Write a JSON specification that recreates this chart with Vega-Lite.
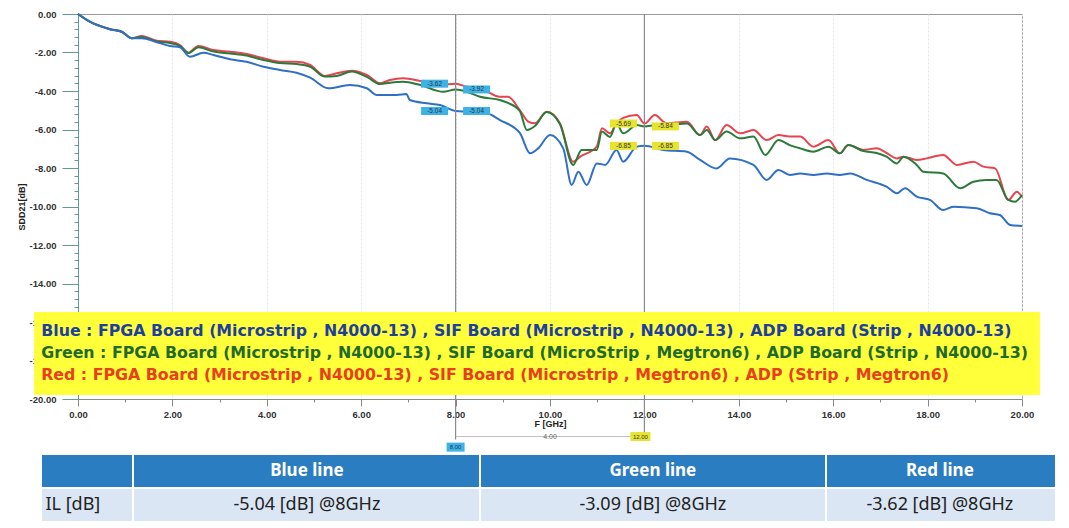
{
  "$schema": "https://vega.github.io/schema/vega-lite/v6.json",
  "width": 944,
  "height": 385,
  "autosize": {"type": "none"},
  "padding": {"left": 78, "top": 14, "right": 47, "bottom": 129},
  "background": "white",
  "config": {
    "view": {"stroke": "#9a9a9a", "strokeWidth": 1},
    "text": {"font": "Noto Sans"}
  },
  "datasets": {
    "curves": [
      {"f":0,"db":0,"s":"Red"},{"f":0.25,"db":-0.40,"s":"Red"},{"f":0.68,"db":-0.79,"s":"Red"},{"f":0.93,"db":-0.92,"s":"Red"},{"f":1.14,"db":-1.26,"s":"Red"},{"f":1.35,"db":-1.14,"s":"Red"},{"f":1.67,"db":-1.39,"s":"Red"},{"f":1.95,"db":-1.44,"s":"Red"},{"f":2.16,"db":-1.61,"s":"Red"},{"f":2.34,"db":-2.01,"s":"Red"},{"f":2.55,"db":-1.66,"s":"Red"},{"f":2.87,"db":-1.87,"s":"Red"},{"f":3.22,"db":-1.96,"s":"Red"},{"f":3.57,"db":-2.08,"s":"Red"},{"f":3.93,"db":-2.30,"s":"Red"},{"f":4.28,"db":-2.48,"s":"Red"},{"f":4.63,"db":-2.48,"s":"Red"},{"f":4.92,"db":-2.65,"s":"Red"},{"f":5.23,"db":-3.22,"s":"Red"},{"f":5.48,"db":-3.08,"s":"Red"},{"f":5.80,"db":-2.95,"s":"Red"},{"f":6.12,"db":-3.17,"s":"Red"},{"f":6.40,"db":-3.60,"s":"Red"},{"f":6.61,"db":-3.43,"s":"Red"},{"f":6.89,"db":-3.34,"s":"Red"},{"f":7.25,"db":-3.48,"s":"Red"},{"f":7.67,"db":-3.69,"s":"Red"},{"f":8.0,"db":-3.62,"s":"Red"},{"f":8.24,"db":-3.78,"s":"Red"},{"f":8.52,"db":-3.86,"s":"Red"},{"f":8.94,"db":-4.30,"s":"Red"},{"f":9.11,"db":-4.30,"s":"Red"},{"f":9.36,"db":-4.99,"s":"Red"},{"f":9.54,"db":-5.59,"s":"Red"},{"f":9.68,"db":-5.68,"s":"Red"},{"f":9.93,"db":-5.08,"s":"Red"},{"f":10.21,"db":-5.68,"s":"Red"},{"f":10.49,"db":-7.67,"s":"Red"},{"f":10.64,"db":-7.41,"s":"Red"},{"f":10.99,"db":-6.89,"s":"Red"},{"f":11.10,"db":-5.94,"s":"Red"},{"f":11.27,"db":-6.20,"s":"Red"},{"f":11.41,"db":-5.68,"s":"Red"},{"f":11.55,"db":-5.40,"s":"Red"},{"f":11.84,"db":-5.25,"s":"Red"},{"f":12.0,"db":-5.69,"s":"Red"},{"f":12.22,"db":-5.25,"s":"Red"},{"f":12.47,"db":-5.68,"s":"Red"},{"f":12.90,"db":-5.60,"s":"Red"},{"f":13.18,"db":-6.29,"s":"Red"},{"f":13.32,"db":-5.85,"s":"Red"},{"f":13.50,"db":-6.55,"s":"Red"},{"f":13.74,"db":-5.77,"s":"Red"},{"f":14.03,"db":-6.20,"s":"Red"},{"f":14.31,"db":-6.03,"s":"Red"},{"f":14.59,"db":-6.55,"s":"Red"},{"f":14.84,"db":-6.29,"s":"Red"},{"f":15.08,"db":-6.37,"s":"Red"},{"f":15.30,"db":-6.37,"s":"Red"},{"f":15.58,"db":-6.89,"s":"Red"},{"f":15.90,"db":-6.55,"s":"Red"},{"f":16.14,"db":-7.24,"s":"Red"},{"f":16.32,"db":-6.81,"s":"Red"},{"f":16.64,"db":-7.06,"s":"Red"},{"f":16.92,"db":-6.98,"s":"Red"},{"f":17.13,"db":-7.22,"s":"Red"},{"f":17.35,"db":-7.50,"s":"Red"},{"f":17.49,"db":-7.41,"s":"Red"},{"f":17.77,"db":-7.58,"s":"Red"},{"f":17.98,"db":-7.50,"s":"Red"},{"f":18.33,"db":-7.32,"s":"Red"},{"f":18.62,"db":-7.84,"s":"Red"},{"f":18.97,"db":-7.67,"s":"Red"},{"f":19.18,"db":-7.93,"s":"Red"},{"f":19.43,"db":-8.02,"s":"Red"},{"f":19.71,"db":-9.66,"s":"Red"},{"f":19.89,"db":-9.23,"s":"Red"},{"f":20.0,"db":-9.50,"s":"Red"},

      {"f":0,"db":0,"s":"Green"},{"f":0.25,"db":-0.40,"s":"Green"},{"f":0.68,"db":-0.79,"s":"Green"},{"f":0.93,"db":-0.92,"s":"Green"},{"f":1.14,"db":-1.26,"s":"Green"},{"f":1.35,"db":-1.19,"s":"Green"},{"f":1.67,"db":-1.43,"s":"Green"},{"f":1.95,"db":-1.51,"s":"Green"},{"f":2.16,"db":-1.66,"s":"Green"},{"f":2.34,"db":-2.03,"s":"Green"},{"f":2.55,"db":-1.73,"s":"Green"},{"f":2.87,"db":-1.95,"s":"Green"},{"f":3.22,"db":-2.05,"s":"Green"},{"f":3.57,"db":-2.16,"s":"Green"},{"f":3.93,"db":-2.39,"s":"Green"},{"f":4.28,"db":-2.55,"s":"Green"},{"f":4.63,"db":-2.60,"s":"Green"},{"f":4.92,"db":-2.74,"s":"Green"},{"f":5.23,"db":-3.25,"s":"Green"},{"f":5.48,"db":-3.22,"s":"Green"},{"f":5.80,"db":-2.99,"s":"Green"},{"f":6.12,"db":-3.27,"s":"Green"},{"f":6.40,"db":-3.64,"s":"Green"},{"f":6.61,"db":-3.57,"s":"Green"},{"f":6.89,"db":-3.52,"s":"Green"},{"f":7.25,"db":-3.69,"s":"Green"},{"f":7.74,"db":-4.04,"s":"Green"},{"f":8.0,"db":-3.92,"s":"Green"},{"f":8.24,"db":-4.04,"s":"Green"},{"f":8.52,"db":-4.30,"s":"Green"},{"f":8.94,"db":-4.47,"s":"Green"},{"f":9.11,"db":-4.62,"s":"Green"},{"f":9.36,"db":-5.04,"s":"Green"},{"f":9.51,"db":-6.03,"s":"Green"},{"f":9.68,"db":-5.82,"s":"Green"},{"f":9.93,"db":-5.09,"s":"Green"},{"f":10.21,"db":-5.71,"s":"Green"},{"f":10.49,"db":-7.84,"s":"Green"},{"f":10.67,"db":-7.06,"s":"Green"},{"f":10.99,"db":-7.06,"s":"Green"},{"f":11.10,"db":-6.11,"s":"Green"},{"f":11.27,"db":-6.39,"s":"Green"},{"f":11.41,"db":-5.68,"s":"Green"},{"f":11.55,"db":-6.20,"s":"Green"},{"f":11.84,"db":-5.77,"s":"Green"},{"f":12.0,"db":-5.84,"s":"Green"},{"f":12.26,"db":-5.77,"s":"Green"},{"f":12.47,"db":-5.77,"s":"Green"},{"f":12.90,"db":-5.69,"s":"Green"},{"f":13.18,"db":-6.29,"s":"Green"},{"f":13.32,"db":-6.03,"s":"Green"},{"f":13.50,"db":-6.55,"s":"Green"},{"f":13.74,"db":-6.11,"s":"Green"},{"f":14.03,"db":-6.46,"s":"Green"},{"f":14.31,"db":-6.37,"s":"Green"},{"f":14.56,"db":-7.32,"s":"Green"},{"f":14.84,"db":-6.55,"s":"Green"},{"f":15.08,"db":-6.81,"s":"Green"},{"f":15.30,"db":-6.98,"s":"Green"},{"f":15.58,"db":-7.15,"s":"Green"},{"f":15.90,"db":-6.89,"s":"Green"},{"f":16.14,"db":-7.24,"s":"Green"},{"f":16.32,"db":-6.81,"s":"Green"},{"f":16.64,"db":-7.12,"s":"Green"},{"f":16.92,"db":-7.22,"s":"Green"},{"f":17.13,"db":-7.41,"s":"Green"},{"f":17.35,"db":-7.76,"s":"Green"},{"f":17.49,"db":-7.41,"s":"Green"},{"f":17.77,"db":-7.84,"s":"Green"},{"f":17.91,"db":-8.19,"s":"Green"},{"f":18.33,"db":-8.28,"s":"Green"},{"f":18.69,"db":-9.05,"s":"Green"},{"f":18.97,"db":-8.71,"s":"Green"},{"f":19.25,"db":-8.62,"s":"Green"},{"f":19.46,"db":-8.62,"s":"Green"},{"f":19.71,"db":-9.66,"s":"Green"},{"f":19.85,"db":-9.75,"s":"Green"},{"f":20.0,"db":-9.40,"s":"Green"},

      {"f":0,"db":0,"s":"Blue"},{"f":0.25,"db":-0.40,"s":"Blue"},{"f":0.68,"db":-0.79,"s":"Blue"},{"f":0.93,"db":-0.94,"s":"Blue"},{"f":1.14,"db":-1.26,"s":"Blue"},{"f":1.35,"db":-1.26,"s":"Blue"},{"f":1.67,"db":-1.47,"s":"Blue"},{"f":1.95,"db":-1.66,"s":"Blue"},{"f":2.16,"db":-1.73,"s":"Blue"},{"f":2.37,"db":-2.22,"s":"Blue"},{"f":2.66,"db":-2.01,"s":"Blue"},{"f":2.87,"db":-2.13,"s":"Blue"},{"f":3.22,"db":-2.35,"s":"Blue"},{"f":3.57,"db":-2.48,"s":"Blue"},{"f":3.93,"db":-2.74,"s":"Blue"},{"f":4.28,"db":-2.91,"s":"Blue"},{"f":4.63,"db":-3.05,"s":"Blue"},{"f":4.92,"db":-3.31,"s":"Blue"},{"f":5.30,"db":-3.86,"s":"Blue"},{"f":5.76,"db":-3.69,"s":"Blue"},{"f":6.12,"db":-3.86,"s":"Blue"},{"f":6.33,"db":-4.21,"s":"Blue"},{"f":6.75,"db":-4.21,"s":"Blue"},{"f":6.96,"db":-4.16,"s":"Blue"},{"f":7.03,"db":-4.47,"s":"Blue"},{"f":7.39,"db":-4.64,"s":"Blue"},{"f":7.67,"db":-4.73,"s":"Blue"},{"f":8.0,"db":-5.04,"s":"Blue"},{"f":8.24,"db":-5.08,"s":"Blue"},{"f":8.66,"db":-5.16,"s":"Blue"},{"f":8.94,"db":-5.51,"s":"Blue"},{"f":9.36,"db":-6.18,"s":"Blue"},{"f":9.58,"db":-7.24,"s":"Blue"},{"f":9.75,"db":-6.98,"s":"Blue"},{"f":10.0,"db":-6.29,"s":"Blue"},{"f":10.28,"db":-6.98,"s":"Blue"},{"f":10.46,"db":-8.88,"s":"Blue"},{"f":10.60,"db":-8.19,"s":"Blue"},{"f":10.78,"db":-8.88,"s":"Blue"},{"f":10.99,"db":-7.76,"s":"Blue"},{"f":11.17,"db":-7.84,"s":"Blue"},{"f":11.41,"db":-7.06,"s":"Blue"},{"f":11.55,"db":-7.67,"s":"Blue"},{"f":11.84,"db":-6.89,"s":"Blue"},{"f":12.0,"db":-6.85,"s":"Blue"},{"f":12.40,"db":-7.06,"s":"Blue"},{"f":12.90,"db":-7.15,"s":"Blue"},{"f":13.18,"db":-7.58,"s":"Blue"},{"f":13.53,"db":-8.02,"s":"Blue"},{"f":13.81,"db":-7.50,"s":"Blue"},{"f":14.31,"db":-7.84,"s":"Blue"},{"f":14.59,"db":-8.62,"s":"Blue"},{"f":14.84,"db":-8.10,"s":"Blue"},{"f":15.08,"db":-8.36,"s":"Blue"},{"f":15.30,"db":-8.28,"s":"Blue"},{"f":15.58,"db":-8.36,"s":"Blue"},{"f":15.86,"db":-8.28,"s":"Blue"},{"f":16.14,"db":-8.36,"s":"Blue"},{"f":16.36,"db":-8.28,"s":"Blue"},{"f":16.71,"db":-8.62,"s":"Blue"},{"f":17.13,"db":-8.97,"s":"Blue"},{"f":17.35,"db":-9.31,"s":"Blue"},{"f":17.52,"db":-9.05,"s":"Blue"},{"f":17.77,"db":-9.49,"s":"Blue"},{"f":18.05,"db":-9.66,"s":"Blue"},{"f":18.33,"db":-10.18,"s":"Blue"},{"f":18.54,"db":-10.01,"s":"Blue"},{"f":19.04,"db":-10.09,"s":"Blue"},{"f":19.32,"db":-10.35,"s":"Blue"},{"f":19.53,"db":-10.44,"s":"Blue"},{"f":19.75,"db":-10.96,"s":"Blue"},{"f":20.0,"db":-11.01,"s":"Blue"}
    ],
    "markers": [
      {"f":8,"v":-3.62,"side":"L","m":"M1"},{"f":8,"v":-3.92,"side":"R","m":"M1"},
      {"f":8,"v":-5.04,"side":"L","m":"M1"},{"f":8,"v":-5.04,"side":"R","m":"M1"},
      {"f":12,"v":-5.69,"side":"L","m":"M2"},{"f":12,"v":-5.84,"side":"R","m":"M2"},
      {"f":12,"v":-6.85,"side":"L","m":"M2"},{"f":12,"v":-6.85,"side":"R","m":"M2"}
    ],
    "markerPos": [{"f":8,"m":"M1","t":"8.00"},{"f":12,"m":"M2","t":"12.00"}],
    "legendText": [
      {"s":"Blue","t":"Blue : FPGA Board (Microstrip , N4000-13) , SIF Board (Microstrip , N4000-13) , ADP Board (Strip , N4000-13)"},
      {"s":"Green","t":"Green : FPGA Board (Microstrip , N4000-13) , SIF Board (MicroStrip , Megtron6) , ADP Board (Strip , N4000-13)"},
      {"s":"Red","t":"Red : FPGA Board (Microstrip , N4000-13) , SIF Board (Microstrip , Megtron6) , ADP (Strip , Megtron6)"}
    ],
    "table": [
      {"col":"Blue line","il":"-5.04 [dB] @8GHz"},
      {"col":"Green line","il":"-3.09 [dB] @8GHz"},
      {"col":"Red line","il":"-3.62 [dB] @8GHz"}
    ],
    "one": [{}]
  },
  "layer": [
    {
      "data": {"name": "curves"},
      "mark": {"type": "line", "strokeWidth": 2, "interpolate": "monotone"},
      "encoding": {
        "x": {"field": "f", "type": "quantitative", "scale": {"domain": [0, 20], "nice": false, "zero": false},
          "axis": {
            "values": [0,1,2,3,4,5,6,7,8,9,10,11,12,13,14,15,16,17,18,19,20],
            "tickCount": 200,
            "labelExpr": "datum.value % 2 == 0 ? replace(format(datum.value, '.2f'), '\u2212', '-') : ''",
            "labelOverlap": false,
            "labelFlush": false,
            "labelFont": "Liberation Sans", "labelFontWeight": "bold", "labelFontSize": 9.5, "labelColor": "#333",
            "labelPadding": 3,
            "tickSize": {"condition": {"test": "datum.value % 2 == 0", "value": 7}, "value": 3},
            "tickColor": "#888", "domainColor": "#888",
            "grid": true, "gridColor": "#e4e4e4", "gridDash": [2, 2],
            "gridOpacity": {"condition": {"test": "datum.value % 2 == 0", "value": 1}, "value": 0},
            "title": "F [GHz]", "titleFont": "Liberation Sans", "titleFontSize": 9, "titleFontWeight": "bold", "titleColor": "#222", "titlePadding": 1
          }
        },
        "y": {"field": "db", "type": "quantitative", "scale": {"domain": [-20, 0], "nice": false, "zero": false},
          "axis": {
            "values": [0,-0.4,-0.8,-1.2,-1.6,-2,-2.4,-2.8,-3.2,-3.6,-4,-4.4,-4.8,-5.2,-5.6,-6,-6.4,-6.8,-7.2,-7.6,-8,-8.4,-8.8,-9.2,-9.6,-10,-10.4,-10.8,-11.2,-11.6,-12,-12.4,-12.8,-13.2,-13.6,-14,-14.4,-14.8,-15.2,-15.6,-16,-16.4,-16.8,-17.2,-17.6,-18,-18.4,-18.8,-19.2,-19.6,-20],
            "tickCount": 200,
            "labelExpr": "datum.value % 2 == 0 ? replace(format(datum.value, '.2f'), '\u2212', '-') : ''",
            "labelOverlap": false,
            "labelFont": "Liberation Sans", "labelFontWeight": "bold", "labelFontSize": 9.5, "labelColor": "#333",
            "labelPadding": 6,
            "tickSize": {"condition": {"test": "datum.value % 2 == 0", "value": 16}, "value": 4},
            "tickColor": "#5f9a9a", "domainColor": "#5f9a9a",
            "grid": false,
            "title": "SDD21[dB]", "titleFont": "Liberation Sans", "titleFontSize": 9, "titleFontWeight": "bold", "titleColor": "#222", "titlePadding": 3
          }
        },
        "color": {"field": "s", "type": "nominal", "legend": null,
          "scale": {"domain": ["Red", "Green", "Blue"], "range": ["#e8434f", "#2b7a3a", "#2f6fc6"]}},
        "order": {"field": "f", "type": "quantitative"}
      }
    },
    {
      "data": {"name": "markerPos"},
      "mark": {"type": "rule", "color": "#8a8a8a", "strokeWidth": 1.2},
      "encoding": {
        "x": {"field": "f", "type": "quantitative"},
        "y": {"datum": 0, "type": "quantitative"},
        "y2": {"datum": -22.1}
      }
    },
    {
      "data": {"name": "one"},
      "mark": {"type": "rule", "color": "#b0b0b0", "strokeWidth": 0.8},
      "encoding": {"x": {"datum": 8}, "x2": {"datum": 12}, "y": {"datum": -21.95}}
    },
    {
      "data": {"name": "one"},
      "mark": {"type": "text", "fontSize": 7, "color": "#666", "font": "Liberation Sans"},
      "encoding": {"x": {"datum": 10}, "y": {"datum": -21.95}, "text": {"value": "4.00"}}
    },
    {
      "data": {"name": "markers"},
      "transform": [{"filter": "datum.side == 'L'"}],
      "mark": {"type": "rect", "width": 27, "height": 8, "xOffset": -21},
      "encoding": {
        "x": {"field": "f", "type": "quantitative"},
        "y": {"field": "v", "type": "quantitative"},
        "fill": {"field": "m", "type": "nominal", "legend": null, "scale": {"domain": ["M1", "M2"], "range": ["#3bb3e6", "#e6e42c"]}}
      }
    },
    {
      "data": {"name": "markers"},
      "transform": [{"filter": "datum.side == 'R'"}],
      "mark": {"type": "rect", "width": 27, "height": 8, "xOffset": 21},
      "encoding": {
        "x": {"field": "f", "type": "quantitative"},
        "y": {"field": "v", "type": "quantitative"},
        "fill": {"field": "m", "type": "nominal", "legend": null}
      }
    },
    {
      "data": {"name": "markers"},
      "transform": [{"filter": "datum.side == 'L'"}, {"calculate": "replace(format(datum.v, '.2f'), '\u2212', '-')", "as": "lab"}],
      "mark": {"type": "text", "fontSize": 6.5, "color": "#334", "xOffset": -21, "font": "Liberation Sans"},
      "encoding": {"x": {"field": "f", "type": "quantitative"}, "y": {"field": "v", "type": "quantitative"}, "text": {"field": "lab"}}
    },
    {
      "data": {"name": "markers"},
      "transform": [{"filter": "datum.side == 'R'"}, {"calculate": "replace(format(datum.v, '.2f'), '\u2212', '-')", "as": "lab"}],
      "mark": {"type": "text", "fontSize": 6.5, "color": "#334", "xOffset": 21, "font": "Liberation Sans"},
      "encoding": {"x": {"field": "f", "type": "quantitative"}, "y": {"field": "v", "type": "quantitative"}, "text": {"field": "lab"}}
    },
    {
      "data": {"name": "markerPos"},
      "transform": [{"filter": "datum.m == 'M1'"}],
      "layer": [
        {"mark": {"type": "rect", "width": 18, "height": 9}, "encoding": {"x": {"field": "f", "type": "quantitative"}, "y": {"datum": -22.5}, "fill": {"field": "m", "type": "nominal", "legend": null}}},
        {"mark": {"type": "text", "fontSize": 6, "color": "#335", "font": "Liberation Sans"}, "encoding": {"x": {"field": "f", "type": "quantitative"}, "y": {"datum": -22.5}, "text": {"field": "t"}}}
      ]
    },
    {
      "data": {"name": "markerPos"},
      "transform": [{"filter": "datum.m == 'M2'"}],
      "layer": [
        {"mark": {"type": "rect", "width": 20, "height": 9, "xOffset": -4}, "encoding": {"x": {"field": "f", "type": "quantitative"}, "y": {"datum": -21.95}, "fill": {"field": "m", "type": "nominal", "legend": null}}},
        {"mark": {"type": "text", "fontSize": 6, "color": "#335", "xOffset": -4, "font": "Liberation Sans"}, "encoding": {"x": {"field": "f", "type": "quantitative"}, "y": {"datum": -21.95}, "text": {"field": "t"}}}
      ]
    },
    {
      "data": {"name": "one"},
      "mark": {"type": "rect", "color": "#ffff3a"},
      "encoding": {"x": {"datum": -0.93}, "x2": {"datum": 20.38}, "y": {"datum": -15.48}, "y2": {"datum": -19.79}}
    },
    {
      "data": {"name": "legendText"},
      "transform": [{"filter": "datum.s == 'Blue'"}],
      "mark": {"type": "text", "align": "left", "baseline": "middle", "font": "DejaVu Sans", "fontSize": 15.8, "fontWeight": "bold", "color": "#1f3f9e"},
      "encoding": {"x": {"datum": -0.78}, "y": {"datum": -16.47}, "text": {"field": "t"}}
    },
    {
      "data": {"name": "legendText"},
      "transform": [{"filter": "datum.s == 'Green'"}],
      "mark": {"type": "text", "align": "left", "baseline": "middle", "font": "DejaVu Sans", "fontSize": 15.8, "fontWeight": "bold", "color": "#1f6a2c"},
      "encoding": {"x": {"datum": -0.78}, "y": {"datum": -17.62}, "text": {"field": "t"}}
    },
    {
      "data": {"name": "legendText"},
      "transform": [{"filter": "datum.s == 'Red'"}],
      "mark": {"type": "text", "align": "left", "baseline": "middle", "font": "DejaVu Sans", "fontSize": 15.8, "fontWeight": "bold", "color": "#e8401e"},
      "encoding": {"x": {"datum": -0.78}, "y": {"datum": -18.76}, "text": {"field": "t"}}
    },
    {
      "data": {"name": "one"},
      "mark": {"type": "rect", "color": "#2b7dc1"},
      "encoding": {"x": {"datum": -0.763}, "x2": {"datum": 20.699}, "y": {"datum": -22.91}, "y2": {"datum": -24.57}}
    },
    {
      "data": {"name": "one"},
      "mark": {"type": "rect", "color": "#dbe6f4"},
      "encoding": {"x": {"datum": -0.763}, "x2": {"datum": 20.699}, "y": {"datum": -24.68}, "y2": {"datum": -26.34}}
    },
    {"data": {"name": "one"}, "mark": {"type": "rule", "color": "white", "strokeWidth": 2}, "encoding": {"x": {"datum": 1.165}, "y": {"datum": -22.91}, "y2": {"datum": -26.34}}},
    {"data": {"name": "one"}, "mark": {"type": "rule", "color": "white", "strokeWidth": 2}, "encoding": {"x": {"datum": 8.517}, "y": {"datum": -22.91}, "y2": {"datum": -26.34}}},
    {"data": {"name": "one"}, "mark": {"type": "rule", "color": "white", "strokeWidth": 2}, "encoding": {"x": {"datum": 15.847}, "y": {"datum": -22.91}, "y2": {"datum": -26.34}}},
    {
      "data": {"name": "table"},
      "transform": [{"filter": "datum.col == 'Blue line'"}],
      "layer": [
        {"mark": {"type": "text", "fontSize": 17, "fontWeight": "bold", "color": "white"}, "encoding": {"x": {"datum": 4.85}, "y": {"datum": -23.74}, "text": {"field": "col"}}},
        {"mark": {"type": "text", "fontSize": 18, "color": "#222"}, "encoding": {"x": {"datum": 4.85}, "y": {"datum": -25.51}, "text": {"field": "il"}}}
      ]
    },
    {
      "data": {"name": "table"},
      "transform": [{"filter": "datum.col == 'Green line'"}],
      "layer": [
        {"mark": {"type": "text", "fontSize": 17, "fontWeight": "bold", "color": "white"}, "encoding": {"x": {"datum": 12.18}, "y": {"datum": -23.74}, "text": {"field": "col"}}},
        {"mark": {"type": "text", "fontSize": 18, "color": "#222"}, "encoding": {"x": {"datum": 12.18}, "y": {"datum": -25.51}, "text": {"field": "il"}}}
      ]
    },
    {
      "data": {"name": "table"},
      "transform": [{"filter": "datum.col == 'Red line'"}],
      "layer": [
        {"mark": {"type": "text", "fontSize": 17, "fontWeight": "bold", "color": "white"}, "encoding": {"x": {"datum": 18.26}, "y": {"datum": -23.74}, "text": {"field": "col"}}},
        {"mark": {"type": "text", "fontSize": 18, "color": "#222"}, "encoding": {"x": {"datum": 18.26}, "y": {"datum": -25.51}, "text": {"field": "il"}}}
      ]
    },
    {
      "data": {"name": "one"},
      "mark": {"type": "text", "align": "left", "fontSize": 18, "color": "#222"},
      "encoding": {"x": {"datum": -0.69}, "y": {"datum": -25.51}, "text": {"value": "IL [dB]"}}
    }
  ]
}
